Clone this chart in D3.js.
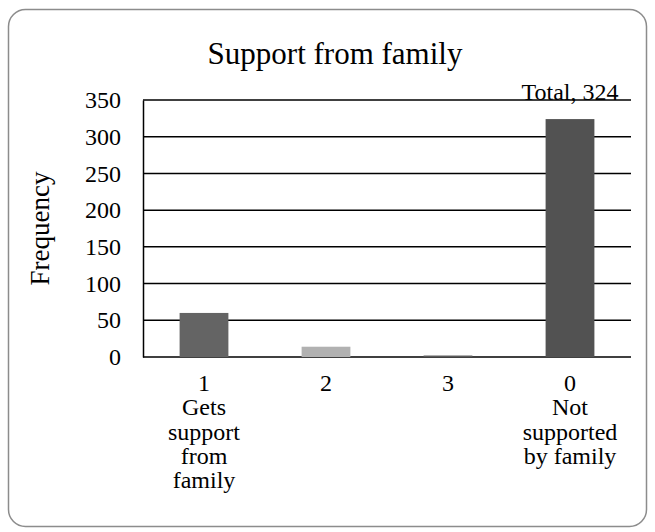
<!DOCTYPE html>
<html>
<head>
<meta charset="utf-8">
<script src="https://cdn.jsdelivr.net/npm/d3@7"></script>
<style>
  html, body { margin: 0; padding: 0; background: #fff; }
  svg { display: block; }
  text { font-family: "Liberation Serif", "Times New Roman", serif; fill: #000; }
</style>
</head>
<body>
<svg id="chart" width="655" height="532"></svg>
<script>
// Category codes and their descriptive sub-labels
const categories = ["1", "2", "3", "0"];
const categoryNotes = [
  ["Gets", "support", "from", "family"],
  [],
  [],
  ["Not", "supported", "by family"]
];
const frequencies = [60, 14, 2, 324];
const barColors = ["#646464", "#b1b1b1", "#5a5a5a", "#525252"];
const yTicks = [0, 50, 100, 150, 200, 250, 300, 350];
const totalLabel = "Total, 324";

const serif = "font-family: 'Liberation Serif', 'Times New Roman', serif";

const svg = d3.select("#chart");
const W = 655, H = 532;
const plot = { left: 143, right: 631, top: 100, bottom: 357 };

// Outer rounded frame
svg.append("rect")
  .attr("x", 8.5).attr("y", 9.5)
  .attr("width", W - 17).attr("height", H - 15)
  .attr("rx", 17).attr("ry", 17)
  .attr("fill", "#fff")
  .attr("stroke", "#8c8c8c")
  .attr("stroke-width", 1.5);

// Title
svg.append("text")
  .attr("x", 335).attr("y", 64)
  .attr("text-anchor", "middle")
  .attr("font-size", 31)
  .attr("style", serif)
  .text("Support from family");

const x = d3.scaleBand()
  .domain(categories)
  .range([plot.left, plot.right])
  .paddingInner(0.6)
  .paddingOuter(0.3);

const y = d3.scaleLinear()
  .domain([0, 350])
  .range([plot.bottom, plot.top]);

// Horizontal gridlines
svg.append("g")
  .selectAll("line")
  .data(yTicks)
  .join("line")
  .attr("x1", plot.left).attr("x2", plot.right)
  .attr("y1", d => y(d)).attr("y2", d => y(d))
  .attr("stroke", "#000")
  .attr("stroke-width", 1.5);

// Y axis with tick labels
const yAxis = svg.append("g")
  .attr("transform", `translate(${plot.left},0)`)
  .call(d3.axisLeft(y).tickValues(yTicks).tickSize(0).tickPadding(22));
yAxis.attr("font-family", null);
yAxis.select(".domain").attr("stroke", "#000").attr("stroke-width", 1.5);
yAxis.selectAll("text")
  .attr("font-size", 24)
  .attr("style", serif)
  .attr("fill", "#000");

// Y axis title
svg.append("text")
  .attr("transform", `translate(40,${(plot.top + plot.bottom) / 2}) rotate(-90)`)
  .attr("text-anchor", "middle")
  .attr("dominant-baseline", "central")
  .attr("font-size", 27)
  .attr("style", serif)
  .text("Frequency");

// Bars
svg.append("g")
  .selectAll("rect")
  .data(frequencies)
  .join("rect")
  .attr("x", (d, i) => x(categories[i]))
  .attr("width", x.bandwidth())
  .attr("y", d => y(d))
  .attr("height", d => y(0) - y(d))
  .attr("fill", (d, i) => barColors[i]);

// Data label for the largest bar
svg.append("text")
  .attr("x", x("0") + x.bandwidth() / 2)
  .attr("y", y(324) - 19)
  .attr("text-anchor", "middle")
  .attr("font-size", 24)
  .attr("style", serif)
  .text(totalLabel);

// Category labels (code plus description lines)
const catG = svg.append("g");
categories.forEach((c, i) => {
  const cx = x(c) + x.bandwidth() / 2;
  const t = catG.append("text")
    .attr("x", cx)
    .attr("y", 391)
    .attr("text-anchor", "middle")
    .attr("font-size", 24)
    .attr("style", serif);
  [c].concat(categoryNotes[i]).forEach((line, k) => {
    t.append("tspan")
      .attr("x", cx)
      .attr("dy", k === 0 ? 0 : 24.3)
      .text(line);
  });
});
</script>
</body>
</html>
